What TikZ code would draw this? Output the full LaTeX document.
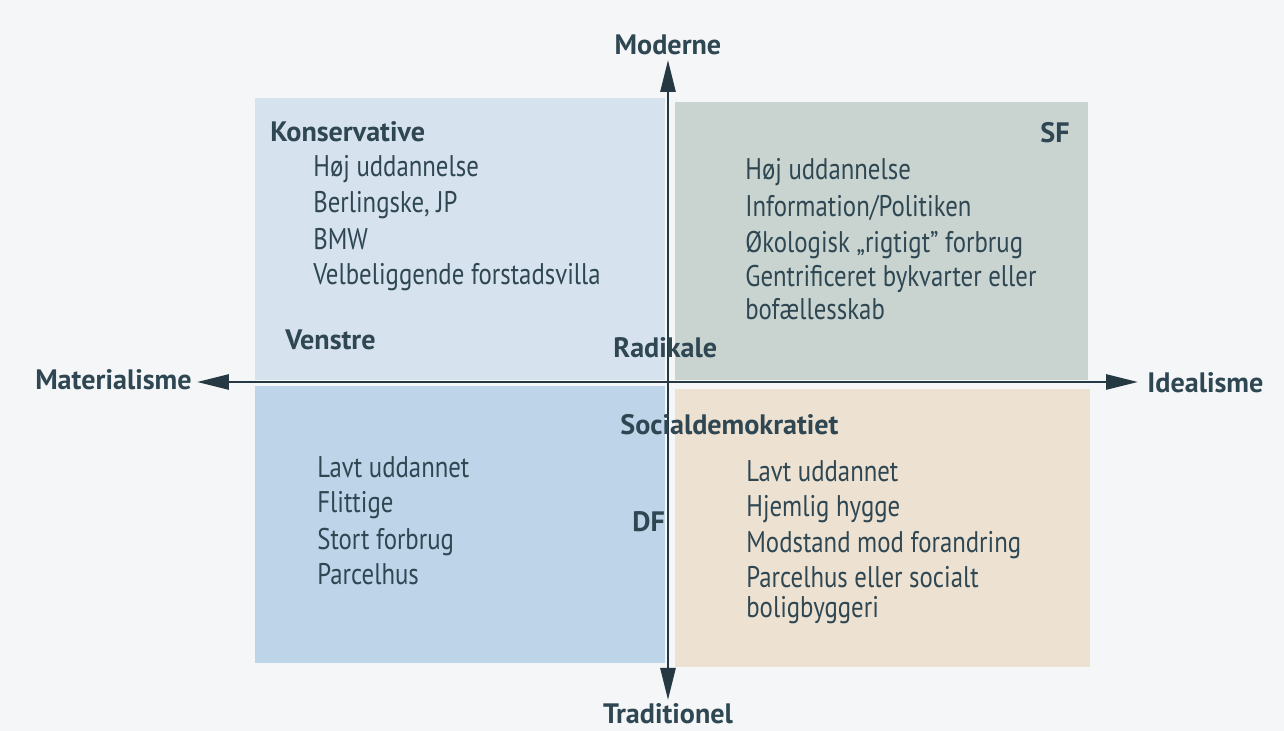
\documentclass[tikz,border=0pt]{standalone}
\usepackage{fontspec}
\setmainfont{PT Sans}[FakeStretch=0.83]
\newfontfamily\headsans{PT Sans}
\usepackage{xcolor}
\usetikzlibrary{arrows.meta}

\definecolor{txt}{HTML}{2E4752}
\definecolor{paper}{HTML}{F4F6F8}
\definecolor{tlfill}{HTML}{D6E2EE}
\definecolor{trfill}{HTML}{C9D4D0}
\definecolor{blfill}{HTML}{BDD4E9}
\definecolor{brfill}{HTML}{EDE1D2}

\tikzset{
  item/.style={anchor=base west, inner sep=0pt, text=txt, font=\fontsize{17}{20}\selectfont},
  party/.style={anchor=base west, inner sep=0pt, text=txt, font=\fontsize{16}{19}\headsans\bfseries},
  axislabel/.style={inner sep=0pt, text=txt, font=\fontsize{16}{19}\headsans\bfseries},
  axis/.style={line width=1.6pt, draw=txt!80!black, -{Triangle[length=0.64cm, width=0.3cm]}},
}

\begin{document}
\begin{tikzpicture}
            \useasboundingbox[fill=paper] (-13.36, 7.64) rectangle (12.32, -6.98);

            % quadrants
            \fill[tlfill] (-8.26, 5.68) rectangle (-0.06, 0.04);
            \fill[trfill] (0.14, 5.60) rectangle (8.40, 0.04);
            \fill[blfill] (-8.26, -0.08) rectangle (-0.06, -5.62);
            \fill[brfill] (0.14, -0.14) rectangle (8.44, -5.70);

            % axis labels
            \node[axislabel, anchor=base east] (mat) at (-9.52, -0.16) {Materialisme};
            \node[axislabel, anchor=base west] (ide) at (9.58, -0.22) {Idealisme};
            \node[axislabel, anchor=base] (mod) at (0.0, 6.54) {Moderne};
            \node[axislabel, anchor=base] (tra) at (0.0, -6.84) {Traditionel};

            \coordinate (west) at (-9.42, 0.0);
            \coordinate (east) at (9.40, 0.0);
            \coordinate (north) at (0.0, 6.44);
            \coordinate (south) at (0.0, -6.36);
            \coordinate (origo) at (0.0, 0.0);

            \draw[axis] (origo) -- (west); % mod materialisme
            \draw[axis] (origo) -- (east); % mod idealisme
            \draw[axis] (origo) -- (north); % mod moderne
            \draw[axis] (origo) -- (south); % mod traditionel

            % oeverst til venstre
            \node[party] (kons) at (-7.96, 4.80) {Konservative};
            \node[item] (kons1) at (-7.10, 4.10) {Høj uddannelse};
            \node[item] (kons2) at (-7.10, 3.38) {Berlingske, JP};
            \node[item] (kons3) at (-7.10, 2.64) {BMW};
            \node[item] (kons4) at (-7.10, 1.94) {Velbeliggende forstadsvilla};
            \node[party] (ven) at (-7.66, 0.64) {Venstre};
            \node[party] (rad) at (-1.10, 0.48) {Radikale};

            % oeverst til hoejre
            \node[party, anchor=base east] (sf) at (8.04, 4.78) {SF};
            \node[item] (sf1) at (1.54, 4.04) {Høj uddannelse};
            \node[item] (sf2) at (1.54, 3.30) {Information/Politiken};
            \node[item] (sf3) at (1.54, 2.58) {Økologisk „rigtigt” forbrug};
            \node[item] (sf4) at (1.54, 1.90) {Gentrificeret bykvarter eller};
            \node[item] (sf5) at (1.54, 1.24) {bofællesskab};

            % nederst til venstre
            \node[item] (df1) at (-7.02, -1.92) {Lavt uddannet};
            \node[item] (df2) at (-7.02, -2.62) {Flittige};
            \node[item] (df3) at (-7.02, -3.36) {Stort forbrug};
            \node[item] (df4) at (-7.02, -4.06) {Parcelhus};
            \node[party] (df) at (-0.72, -3.00) {DF};

            % nederst til hoejre
            \node[party] (soc) at (-0.96, -1.06) {Socialdemokratiet};
            \node[item] (soc1) at (1.56, -2.00) {Lavt uddannet};
            \node[item] (soc2) at (1.56, -2.70) {Hjemlig hygge};
            \node[item] (soc3) at (1.56, -3.42) {Modstand mod forandring};
            \node[item] (soc4) at (1.56, -4.12) {Parcelhus eller socialt};
            \node[item] (soc5) at (1.56, -4.72) {boligbyggeri};
        \end{tikzpicture}
\end{document}
